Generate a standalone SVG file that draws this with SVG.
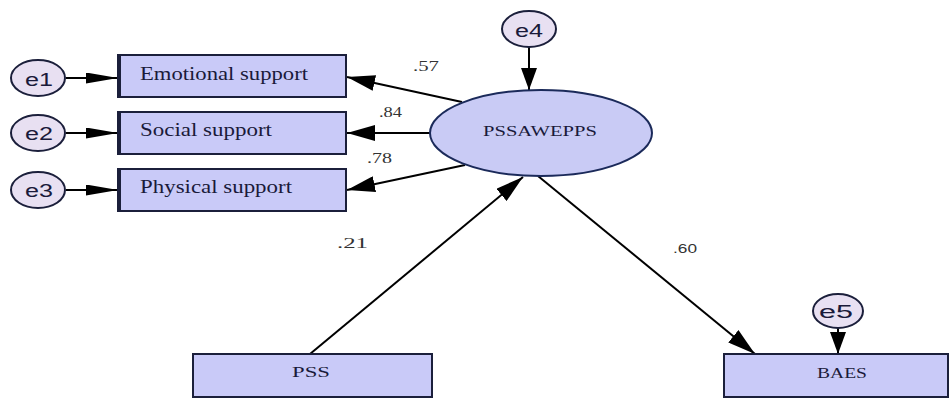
<svg xmlns="http://www.w3.org/2000/svg" width="949" height="399" viewBox="0 0 949 399">
<defs>
<style>
.box{fill:#C9CAF8;stroke:#1B1F3B;stroke-width:2}
.lat{fill:#C9CBF5;stroke:#1B2A5A;stroke-width:2}
.err{fill:#E8E0F2;stroke:#1B1F3B;stroke-width:2}
.edge{stroke:#000;stroke-width:2;fill:none}
.lbl{font-family:"Liberation Serif","Times New Roman",serif;fill:#1A1A3A}
.elbl{font-family:"Liberation Sans",Arial,sans-serif;fill:#1A1A3A;font-size:18px}
.val{font-family:"Liberation Serif","Times New Roman",serif;fill:#333;font-size:14px}
</style>
<marker id="ah" viewBox="0 0 28 16" refX="28" refY="8" markerWidth="28" markerHeight="16" markerUnits="userSpaceOnUse" orient="auto">
<path d="M0,0 L28,8 L0,16 Z" fill="#000"/>
</marker>
<marker id="ahe" viewBox="0 0 32 11" refX="32" refY="5.5" markerWidth="32" markerHeight="11" markerUnits="userSpaceOnUse" orient="auto">
<path d="M0,0 L32,5.5 L0,11 Z" fill="#000"/>
</marker>
<marker id="ahv" viewBox="0 0 22 16" refX="22" refY="8" markerWidth="22" markerHeight="16" markerUnits="userSpaceOnUse" orient="auto">
<path d="M0,0 L22,8 L0,16 Z" fill="#000"/>
</marker>
</defs>
<rect width="949" height="399" fill="#fff"/>

<g id="connectors">
<line class="edge" x1="66" y1="78" x2="118" y2="78" marker-end="url(#ahe)"/>
<line class="edge" x1="66" y1="133" x2="118" y2="133" marker-end="url(#ahe)"/>
<line class="edge" x1="66" y1="190" x2="118" y2="190" marker-end="url(#ahe)"/>
<line class="edge" x1="462" y1="102" x2="347" y2="77" marker-end="url(#ah)"/>
<line class="edge" x1="430" y1="133" x2="347" y2="133" marker-end="url(#ah)"/>
<line class="edge" x1="465" y1="165" x2="347" y2="190" marker-end="url(#ah)"/>
<line class="edge" x1="529" y1="47" x2="529" y2="90" marker-end="url(#ahv)"/>
<line class="edge" x1="310" y1="354" x2="523" y2="177" marker-end="url(#ah)"/>
<line class="edge" x1="538" y1="176" x2="755" y2="354" marker-end="url(#ah)"/>
<line class="edge" x1="838" y1="328" x2="838" y2="354" marker-end="url(#ahv)"/>
<text class="val" x="413" y="71" textLength="26" lengthAdjust="spacingAndGlyphs">.57</text>
<text class="val" x="379" y="117" textLength="23" lengthAdjust="spacingAndGlyphs">.84</text>
<text class="val" x="367" y="163" textLength="25" lengthAdjust="spacingAndGlyphs">.78</text>
<text class="val" x="337" y="248" textLength="31" lengthAdjust="spacingAndGlyphs">.21</text>
<text x="673" y="253" font-family="Liberation Sans, Arial, sans-serif" font-size="13" fill="#333" textLength="24" lengthAdjust="spacingAndGlyphs">.60</text>
</g>

<g id="e1">
<ellipse class="err" cx="38" cy="78" rx="27" ry="18"/>
<text class="elbl" x="25" y="86" textLength="28" lengthAdjust="spacingAndGlyphs">e1</text>
</g>
<g id="e2">
<ellipse class="err" cx="38" cy="133" rx="27" ry="18"/>
<text class="elbl" x="25" y="140" textLength="28" lengthAdjust="spacingAndGlyphs">e2</text>
</g>
<g id="e3">
<ellipse class="err" cx="38" cy="190" rx="27" ry="18"/>
<text class="elbl" x="25" y="197" textLength="28" lengthAdjust="spacingAndGlyphs">e3</text>
</g>
<g id="e4">
<ellipse class="err" cx="529" cy="29" rx="27" ry="18"/>
<text class="elbl" x="515" y="37" textLength="28" lengthAdjust="spacingAndGlyphs">e4</text>
</g>
<g id="e5">
<ellipse class="err" cx="838" cy="311" rx="25" ry="17"/>
<text class="elbl" x="819" y="318" textLength="34" lengthAdjust="spacingAndGlyphs" font-size="20">e5</text>
</g>

<g id="emotional">
<rect class="box" x="118" y="55" width="228" height="42"/>
<line x1="119" y1="55" x2="119" y2="97" stroke="#1B1F3B" stroke-width="4"/>
<text class="lbl" x="140" y="80" font-size="19" textLength="168" lengthAdjust="spacingAndGlyphs">Emotional support</text>
</g>
<g id="social">
<rect class="box" x="118" y="112" width="228" height="42"/>
<line x1="119" y1="112" x2="119" y2="154" stroke="#1B1F3B" stroke-width="4"/>
<text class="lbl" x="140" y="136" font-size="19" textLength="132" lengthAdjust="spacingAndGlyphs">Social support</text>
</g>
<g id="physical">
<rect class="box" x="118" y="169" width="228" height="42"/>
<line x1="119" y1="169" x2="119" y2="211" stroke="#1B1F3B" stroke-width="4"/>
<text class="lbl" x="140" y="193" font-size="19" textLength="152" lengthAdjust="spacingAndGlyphs">Physical support</text>
</g>
<g id="pssawepps">
<ellipse class="lat" cx="541" cy="133" rx="111" ry="43"/>
<text class="lbl" x="483" y="136" font-size="15" textLength="114" lengthAdjust="spacingAndGlyphs">PSSAWEPPS</text>
</g>
<g id="pss">
<rect class="box" x="193" y="354" width="239" height="43"/>
<text class="lbl" x="292" y="377" font-size="15" textLength="38" lengthAdjust="spacingAndGlyphs">PSS</text>
</g>
<g id="baes">
<rect class="box" x="724" y="354" width="224" height="43"/>
<text class="lbl" x="817" y="378" font-size="15" textLength="50" lengthAdjust="spacingAndGlyphs">BAES</text>
</g>
</svg>
